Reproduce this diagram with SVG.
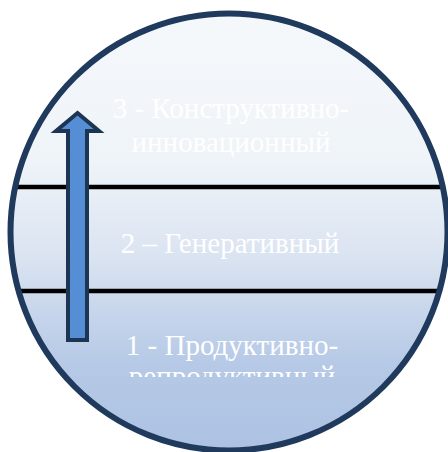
<svg xmlns="http://www.w3.org/2000/svg" width="448" height="452" viewBox="0 0 448 452">
  <style>
    .lbl { font-family: "Liberation Serif", "Times New Roman", serif; font-size: 29px; fill: #ffffff; text-anchor: middle; }
    .sep { stroke: #000000; stroke-width: 4.5; }
  </style>
  <defs>
    <linearGradient id="bg" x1="0" y1="0" x2="0" y2="1">
      <stop offset="0" stop-color="#f5f8fb"/>
      <stop offset="0.33" stop-color="#eff4f9"/>
      <stop offset="0.55" stop-color="#dbe4f1"/>
      <stop offset="0.8" stop-color="#b6c9e6"/>
      <stop offset="1" stop-color="#adc2e3"/>
    </linearGradient>
    <clipPath id="circ">
      <circle cx="229" cy="232" r="218.5"/>
    </clipPath>
    <clipPath id="cut1">
      <rect x="0" y="0" width="448" height="377"/>
    </clipPath>
  </defs>
  <rect width="448" height="452" fill="#ffffff"/>
  <g id="circle-bg">
    <circle cx="229" cy="232" r="218.5" fill="url(#bg)"/>
  </g>
  <g id="connectors" clip-path="url(#circ)">
    <line class="sep" x1="0" y1="187" x2="448" y2="187"/>
    <line class="sep" x1="0" y1="291" x2="448" y2="291"/>
  </g>
  <g id="level3">
    <text class="lbl" x="231" y="118">3 - Конструктивно-</text>
    <text class="lbl" x="231" y="152">инновационный</text>
  </g>
  <g id="level2">
    <text class="lbl" x="230" y="253">2 – Генеративный</text>
  </g>
  <g id="level1" clip-path="url(#cut1)">
    <text class="lbl" x="232" y="355">1 - Продуктивно-</text>
    <text class="lbl" x="232" y="386">репродуктивный</text>
  </g>
  <g id="arrow">
    <polygon points="77.5,113 99,131 87,131 87,340 68,340 68,131 56,131" fill="#558ed5" stroke="#1c3553" stroke-width="4" stroke-linejoin="miter"/>
  </g>
  <g id="circle-border">
    <circle cx="229" cy="232" r="218.5" fill="none" stroke="#1f3a5c" stroke-width="6"/>
  </g>
</svg>
